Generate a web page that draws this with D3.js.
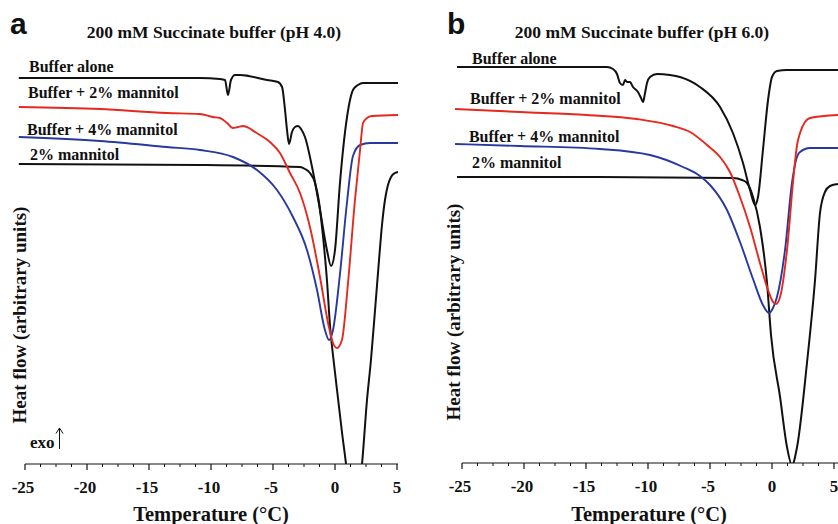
<!DOCTYPE html>
<html>
<head>
<meta charset="utf-8">
<script src="https://cdn.jsdelivr.net/npm/d3@7"></script>
<style>
    body { margin: 0; background: #fff; }
    svg { display: block; }
    text { font-family: "Liberation Serif", "Times New Roman", serif; font-weight: bold; fill: #111; }
</style>
</head>
<body>
<div id="chart"></div>
<script>
// tick values (°C)
const majorTicks = [-25, -20, -15, -10, -5, 0, 5];
const minorTicks = d3.range(-25, 5.01, 1.25).filter(t => !majorTicks.includes(t));

const panelLetters = ["a", "b"];
const panelTitles = ["200 mM Succinate buffer (pH 4.0)", "200 mM Succinate buffer (pH 6.0)"];
const seriesNames = ["Buffer alone", "Buffer + 2% mannitol", "Buffer + 4% mannitol", "2% mannitol"];
const seriesColors = ["#111", "#e6281f", "#2738a0", "#111"];

// pH 4.0 curves: [temperature °C, heat flow (arbitrary units)]
const ph4BufferAlone = [
    [-25.5, 386], [-10.9, 386], [-9.3, 385], [-8.87, 384], [-8.63, 369], [-8.39, 384],
    [-8.06, 389], [-7.66, 389], [-5.48, 384], [-4.6, 382], [-4.27, 377], [-4.03, 354],
    [-3.87, 334], [-3.71, 320], [-3.47, 332], [-3.23, 337], [-2.98, 338], [-2.74, 335],
    [-2.42, 327], [-1.85, 297], [-1.21, 254], [-0.65, 214], [-0.32, 198], [0, 214],
    [0.4, 281], [0.97, 347], [1.45, 374], [1.85, 379], [2.26, 381], [5.08, 381]
];
const ph4Mannitol2 = [
    [-25.5, 357], [-18.95, 355], [-13.55, 351], [-10.89, 350], [-9.84, 347], [-9.27, 346],
    [-8.71, 341], [-8.23, 336], [-7.82, 337], [-7.42, 338], [-6.94, 336], [-6.45, 332],
    [-5.24, 322], [-4.44, 311], [-3.63, 291], [-2.82, 271], [-2.02, 237], [-1.21, 187],
    [-0.56, 141], [-0.16, 121], [0.16, 116], [0.56, 124], [1.05, 181], [1.61, 264],
    [2.02, 314], [2.26, 341], [2.58, 346], [2.98, 348], [5.08, 349]
];
const ph4Mannitol4 = [
    [-25.5, 327], [-18.95, 323], [-13.55, 317], [-10.89, 314], [-8.23, 307], [-6.29, 294],
    [-4.68, 274], [-3.39, 247], [-2.26, 214], [-1.45, 174], [-0.81, 134], [-0.48, 124],
    [-0.16, 134], [0.4, 190], [0.97, 262], [1.45, 308], [2.02, 319], [2.82, 321], [5.08, 321]
];
const ph4MannitolOnly = [
    [-25.5, 300], [-10.89, 299], [-2.82, 297], [-2.42, 295], [-2.02, 291], [-1.61, 281],
    [-1.29, 262], [-0.97, 228], [-0.65, 184], [-0.4, 138], [-0.08, 100], [0.24, 66],
    [0.56, 32], [0.89, 0], [1.21, -36], [1.53, -56], [1.85, -36], [2.18, 0], [2.58, 64],
    [2.9, 104], [3.23, 154], [3.55, 204], [3.79, 239], [4.03, 264], [4.27, 279],
    [4.52, 287], [4.84, 291], [5.08, 292]
];

// pH 6.0 curves
const ph6BufferAlone = [
    [-25.4, 396], [-17.1, 396], [-13.31, 396], [-12.82, 394], [-12.5, 389], [-12.26, 380],
    [-12.02, 378], [-11.85, 383], [-11.69, 381], [-11.45, 381], [-11.21, 376], [-10.81, 371],
    [-10.56, 365], [-10.4, 361], [-10.24, 370], [-10.08, 380], [-9.84, 386], [-9.27, 389],
    [-8.23, 388], [-7.42, 386], [-5.81, 376], [-4.19, 356], [-3.15, 330], [-2.34, 300],
    [-1.77, 273], [-1.37, 258], [-1.13, 266], [-0.73, 313], [-0.32, 363], [0, 386],
    [0.4, 392], [1.21, 393], [5.32, 393]
];
const ph6Mannitol2 = [
    [-25.56, 354], [-20.32, 351], [-14.92, 348], [-10.89, 344], [-7.98, 337], [-6.61, 331],
    [-5.24, 318], [-4.19, 306], [-3.39, 291], [-2.58, 266], [-1.77, 236], [-0.97, 200],
    [-0.32, 173], [0.08, 161], [0.32, 159], [0.65, 166], [1.21, 213], [1.69, 280],
    [2.02, 318], [2.26, 330], [2.66, 341], [3.06, 345], [5.32, 348]
];
const ph6Mannitol4 = [
    [-25.56, 319], [-20.32, 317], [-13.87, 314], [-9.84, 308], [-7.18, 296], [-5.81, 287],
    [-5.0, 278], [-3.63, 253], [-2.58, 221], [-1.53, 184], [-0.73, 158], [-0.24, 150],
    [0.08, 155], [0.4, 166], [1.05, 213], [1.61, 280], [1.94, 303], [2.26, 311],
    [3.06, 315], [5.32, 315]
];
const ph6MannitolOnly = [
    [-25.4, 286], [-13.87, 286], [-3.15, 285], [-2.42, 283], [-2.02, 280], [-1.53, 266],
    [-0.97, 236], [-0.4, 180], [-0.08, 128], [0.65, 66], [1.21, 16], [1.61, -2],
    [2.02, 16], [2.82, 100], [3.47, 183], [3.87, 250], [4.27, 271], [4.68, 277], [5.32, 279]
];

// label anchors [temperature, heat flow]
const ph4LabelAt = [[-24.68, 392], [-24.76, 366], [-24.84, 329], [-24.6, 304]];
const ph6LabelAt = [[-24.19, 399], [-24.35, 359], [-24.44, 321], [-24.19, 295]];

const panels = [
    {left: 25, right: 397, axisY: 464, yLabelX: 26, curves: [ph4BufferAlone, ph4Mannitol2, ph4Mannitol4, ph4MannitolOnly], labels: ph4LabelAt, exo: true},
    {left: 462, right: 834, axisY: 463, yLabelX: 460, curves: [ph6BufferAlone, ph6Mannitol2, ph6Mannitol4, ph6MannitolOnly], labels: ph6LabelAt, exo: false}
];

const svg = d3.select('#chart').append('svg')
    .attr('width', 838)
    .attr('height', 524);

panels.forEach((p, i) => {
    const x = d3.scaleLinear().domain([-25, 5]).range([p.left, p.right]);
    const y = d3.scaleLinear().domain([0, 424]).range([p.axisY, p.axisY - 424]);

    const g = svg.append('g');

    // clip curves at the x axis
    const clipId = `clip-${i}`;
    svg.append('clipPath').attr('id', clipId)
        .append('rect')
        .attr('x', p.left - 20).attr('y', 0)
        .attr('width', p.right - p.left + 40).attr('height', p.axisY);

    const line = d3.line()
        .x(d => x(d[0]))
        .y(d => y(d[1]))
        .curve(d3.curveMonotoneX);

    // draw mannitol-only first so buffer curves sit over it
    [3, 2, 1, 0].forEach(k => {
        g.append('path')
            .datum(p.curves[k])
            .attr('clip-path', `url(#${clipId})`)
            .attr('d', line)
            .attr('fill', 'none')
            .attr('stroke', seriesColors[k])
            .attr('stroke-width', k === 0 || k === 3 ? 2 : 1.9)
            .attr('stroke-linejoin', 'round');
    });

    // series labels
    seriesNames.forEach((name, k) => {
        g.append('text')
            .attr('x', x(p.labels[k][0]))
            .attr('y', y(p.labels[k][1]))
            .style('font-size', '16px')
            .text(name);
    });

    // x axis
    const axis = g.append('g')
        .attr('transform', `translate(0,${p.axisY})`);
    axis.append('line')
        .attr('x1', p.left).attr('x2', i === 0 ? p.right + 1 : 838)
        .attr('stroke', '#111').attr('stroke-width', 1.2);
    axis.selectAll('.major').data(majorTicks).join('line')
        .attr('x1', d => x(d)).attr('x2', d => x(d))
        .attr('y1', 0).attr('y2', 6)
        .attr('stroke', '#111').attr('stroke-width', 1.2);
    axis.selectAll('.minor').data(minorTicks).join('line')
        .attr('x1', d => x(d)).attr('x2', d => x(d))
        .attr('y1', 0).attr('y2', 3)
        .attr('stroke', '#111').attr('stroke-width', 1);
    axis.selectAll('.tick-label').data(majorTicks).join('text')
        .attr('x', d => x(d) - (d < 0 ? 2 : 0))
        .attr('y', 29)
        .attr('text-anchor', 'middle')
        .style('font-size', '17px')
        .text(d => d);

    // axis titles
    g.append('text')
        .attr('x', (p.left + p.right) / 2 + (i === 0 ? 0 : 1))
        .attr('y', 521)
        .attr('text-anchor', 'middle')
        .style('font-size', '20.5px')
        .text('Temperature (°C)');

    g.append('text')
        .attr('transform', `translate(${p.yLabelX},${i === 0 ? 315 : 312}) rotate(-90)`)
        .attr('text-anchor', 'middle')
        .style('font-size', '19px')
        .text('Heat flow (arbitrary units)');

    // panel title and letter
    g.append('text')
        .attr('x', (p.left + p.right) / 2 + (i === 0 ? 3 : -6))
        .attr('y', 38)
        .attr('text-anchor', 'middle')
        .style('font-size', '17.5px')
        .text(panelTitles[i]);

    g.append('text')
        .attr('x', p.left - 15)
        .attr('y', 34)
        .style('font-family', '"Liberation Sans", Arial, sans-serif')
        .style('font-size', '30px')
        .text(panelLetters[i]);

    if (p.exo) {
        g.append('text')
            .attr('x', 30)
            .attr('y', 448)
            .style('font-size', '17px')
            .text('exo');
        g.append('path')
            .attr('d', 'M59.5,449V428M56,433.5L59.5,428L63,433.5')
            .attr('fill', 'none')
            .attr('stroke', '#111')
            .attr('stroke-width', 1);
    }
});
</script>
</body>
</html>
